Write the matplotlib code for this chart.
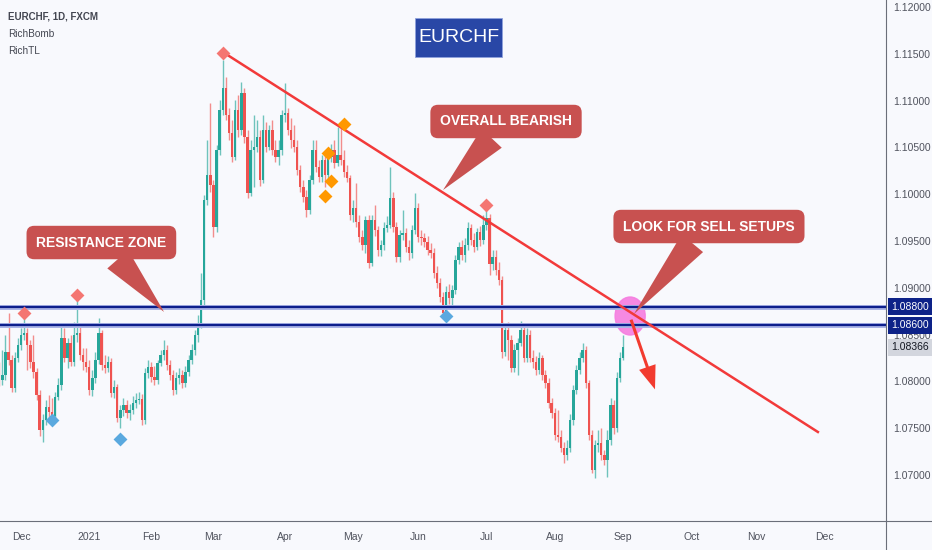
import matplotlib as mpl
mpl.use('Agg')
import matplotlib.pyplot as plt
from matplotlib.patches import Ellipse, FancyArrowPatch, Rectangle
from matplotlib.lines import Line2D
from matplotlib.transforms import blended_transform_factory
import numpy as np
import pandas as pd

plt.rcParams['font.family'] = ['Liberation Sans', 'DejaVu Sans']

# EURCHF 1D (FXCM) candles, prices as pips above 1.0000, open = previous close
first_open = 812
close_pips = [
    802, 807, 831, 823, 793, 825, 839, 850, 852, 839,
    821, 810, 785, 748, 759, 773, 767, 763, 783, 796,
    846, 825, 841, 821, 850, 852, 828, 821, 815, 791,
    804, 823, 852, 818, 814, 821, 788, 794, 761, 769,
    775, 766, 769, 777, 780, 781, 759, 809, 815, 805,
    802, 820, 828, 834, 818, 807, 791, 804, 807, 798,
    810, 823, 834, 850, 862, 887, 994, 1021, 1010, 965,
    1047, 1090, 1113, 1085, 1065, 1040, 1090, 1069, 1108, 1061,
    1001, 1047, 1050, 1061, 1015, 1069, 1050, 1069, 1047, 1040,
    1047, 1085, 1087, 1069, 1058, 1050, 1026, 1008, 997, 983,
    1015, 1047, 1029, 1018, 1037, 1021, 1040, 1047, 1033, 1042,
    1037, 1024, 1017, 978, 985, 970, 954, 946, 972, 926,
    972, 962, 940, 946, 964, 967, 996, 965, 933, 956,
    959, 944, 937, 962, 985, 954, 953, 949, 940, 937,
    916, 905, 890, 873, 896, 889, 898, 930, 944, 935,
    946, 964, 951, 944, 960, 951, 967, 975, 925, 933,
    919, 908, 831, 855, 844, 814, 834, 841, 855, 825,
    850, 825, 821, 812, 825, 807, 798, 777, 766, 743,
    741, 729, 721, 729, 759, 791, 812, 825, 834, 798,
    743, 705, 732, 734, 721, 716, 737, 775, 750, 804,
    825, 837]
high_pips = [
    821, 834, 850, 873, 828, 831, 846, 857, 868, 857,
    844, 850, 814, 791, 765, 780, 785, 782, 789, 804,
    858, 857, 846, 850, 863, 887, 860, 836, 836, 823,
    812, 831, 868, 855, 828, 827, 825, 802, 797, 775,
    782, 780, 776, 784, 788, 789, 787, 814, 823, 821,
    816, 823, 834, 844, 839, 823, 812, 810, 814, 812,
    816, 828, 840, 855, 871, 916, 999, 1058, 1097, 1015,
    1053, 1101, 1143, 1125, 1092, 1079, 1101, 1106, 1120, 1114,
    1069, 1058, 1085, 1079, 1069, 1085, 1077, 1074, 1079, 1058,
    1058, 1090, 1119, 1092, 1081, 1074, 1058, 1031, 1015, 1004,
    1021, 1058, 1058, 1037, 1042, 1042, 1047, 1054, 1058, 1072,
    1074, 1047, 1031, 1021, 994, 1012, 978, 962, 977, 978,
    978, 988, 966, 951, 970, 977, 1029, 1002, 970, 962,
    983, 964, 951, 967, 1001, 991, 962, 959, 955, 948,
    943, 923, 911, 896, 902, 904, 903, 935, 949, 951,
    953, 970, 968, 959, 964, 966, 978, 983, 979, 940,
    940, 928, 913, 861, 863, 850, 840, 846, 865, 860,
    857, 855, 834, 827, 831, 828, 812, 804, 782, 772,
    769, 748, 735, 737, 765, 796, 818, 831, 841, 838,
    802, 748, 737, 748, 750, 727, 748, 782, 780, 810,
    831, 850]
low_pips = [
    795, 796, 802, 818, 789, 789, 821, 834, 844, 812,
    814, 804, 780, 742, 735, 753, 761, 757, 759, 780,
    791, 821, 814, 816, 816, 842, 823, 812, 810, 785,
    784, 798, 819, 812, 809, 810, 783, 782, 757, 750,
    763, 761, 759, 765, 772, 776, 753, 754, 804, 799,
    796, 797, 816, 823, 812, 802, 785, 787, 797, 793,
    794, 806, 819, 828, 842, 857, 882, 988, 1002, 954,
    960, 1042, 1085, 1079, 1058, 1034, 1037, 1061, 1063, 1055,
    996, 998, 1008, 1045, 1009, 1012, 1045, 1047, 1042, 1034,
    1031, 1042, 1077, 1063, 1049, 1045, 1021, 1002, 992, 976,
    979, 1011, 1024, 1013, 1013, 1008, 1015, 1034, 1028, 1030,
    1031, 1018, 1013, 972, 970, 965, 949, 940, 937, 921,
    923, 955, 934, 934, 940, 960, 964, 960, 928, 928,
    951, 938, 930, 932, 957, 949, 946, 944, 935, 932,
    911, 900, 885, 868, 870, 883, 882, 893, 925, 930,
    928, 940, 946, 938, 940, 945, 947, 962, 914, 919,
    914, 903, 825, 827, 823, 810, 810, 807, 838, 821,
    821, 821, 814, 807, 808, 802, 793, 772, 761, 737,
    735, 725, 713, 716, 725, 753, 787, 808, 821, 793,
    737, 702, 697, 725, 716, 711, 698, 732, 744, 746,
    799, 823]

# trading calendar: weekdays, no bar on 25 Dec and 1 Jan
days = pd.bdate_range('2020-11-20', '2021-12-31')
days = days[~days.isin(pd.to_datetime(['2020-12-25', '2021-01-01']))]

zone_levels = [1.0880, 1.0860]
zone_labels = ['1.08800', '1.08600']
last_price = 1.08366
price_ticks = [1.070, 1.075, 1.080, 1.085, 1.090, 1.095, 1.100, 1.105, 1.110, 1.115, 1.120]

# RichTL trendline (bar index, price)
tl_bars = [72.0, 263.8]
tl_prices = [1.1152, 1.0746]

# RichBomb markers (bar index, price)
red_bars = [8, 25, 72, 157]
red_prices = [1.0873, 1.0892, 1.1151, 1.0989]
blue_bars = [17, 39, 144]
blue_prices = [1.0759, 1.0739, 1.0870]
orange_bars = [105, 106, 107, 111]
orange_prices = [1.0998, 1.1044, 1.1014, 1.1075]

# callouts: text, box centre, pointer tip, pointer start along box bottom
callout_text = ['RESISTANCE ZONE', 'OVERALL BEARISH', 'LOOK FOR SELL SETUPS']
callout_box = [(32.9, 1.09484), (163.3, 1.10777), (228.7, 1.09655)]
callout_tip = [(53.1, 1.08742), (143.0, 1.10045), (204.5, 1.08720)]
callout_rel = [0.56, 0.46, 0.45]

circle_center = (203.3, 1.08699)
arrow_from = (203.3, 1.08688)
arrow_to = (211.6, 1.07887)

n = len(close_pips)
x = np.arange(n)
c = 1 + np.array(close_pips) / 10000
o = np.concatenate([[1 + first_open / 10000], c[:-1]])
h = 1 + np.array(high_pips) / 10000
l = 1 + np.array(low_pips) / 10000

up_col = '#26a69a'
dn_col = '#ef5350'
bg = '#f8f9fd'

fig = plt.figure(figsize=(9.32, 5.5), dpi=100, facecolor=bg)
ax = fig.add_axes([0, 29 / 550, 886 / 932, 521 / 550])
ax.set_facecolor(bg)

cols = np.where(c >= o, up_col, dn_col)
ax.vlines(x, l, h, colors=cols, lw=1, alpha=0.65, zorder=2)
body = np.maximum(np.abs(c - o), 0.00004)
ax.bar(x, body, bottom=np.minimum(o, c), width=0.78, color=cols, zorder=2.2)

# resistance zone
for lev in zone_levels:
    ax.axhline(lev, color='#aab4e6', lw=3.6, zorder=2.5)
    ax.axhline(lev, color='#0d1f8c', lw=1.6, zorder=2.6)

ax.plot(tl_bars, tl_prices, color='#f23a3a', lw=1.8, zorder=3)

ax.add_patch(Ellipse(circle_center, 9.7, 0.00406, color='#f57de0', alpha=0.9, zorder=2.4))
ax.add_patch(FancyArrowPatch(arrow_from, arrow_to,
                             arrowstyle='simple,head_width=1.25,head_length=1.7,tail_width=0.22',
                             mutation_scale=10, color='#f23b2f', lw=0, zorder=4))

ax.scatter(red_bars, red_prices, marker='D', s=50, color='#f47672', zorder=4, lw=0)
ax.scatter(blue_bars, blue_prices, marker='D', s=50, color='#5aa9df', zorder=4, lw=0)
ax.scatter(orange_bars, orange_prices, marker='D', s=50, color='#ff9800', zorder=4, lw=0)

for txt, box, tip, rel in zip(callout_text, callout_box, callout_tip, callout_rel):
    ax.annotate(txt, xy=tip, xytext=box, ha='center', va='center',
                fontsize=10, fontweight='bold', color='white',
                bbox=dict(boxstyle='round,pad=0.7,rounding_size=0.55', fc='#c85150', ec='none'),
                arrowprops=dict(arrowstyle='wedge,tail_width=2.0', fc='#c85150', ec='none',
                                relpos=(rel, 0), shrinkA=0, shrinkB=0),
                zorder=5)

# title badge
ax.add_patch(Rectangle((415 / 886, 1 - 57 / 521), 87 / 886, 39 / 521, transform=ax.transAxes,
                       fc='#2947a6', ec='#8fa2dc', lw=0.6, zorder=5))
ax.text(458.5 / 886, 1 - 38 / 521, 'EURCHF', transform=ax.transAxes, ha='center', va='center',
        fontsize=14, color='white', zorder=6)

ax.text(0.009, 0.969, 'EURCHF, 1D, FXCM', transform=ax.transAxes, ha='left', va='center',
        fontsize=7, fontweight='bold', color='#434651')
ax.text(0.009, 0.935, 'RichBomb', transform=ax.transAxes, ha='left', va='center',
        fontsize=7.2, color='#434651')
ax.text(0.009, 0.902, 'RichTL', transform=ax.transAxes, ha='left', va='center',
        fontsize=7.2, color='#434651')

# axes
ax.set_xlim(0.23, 285.75)
ax.set_ylim(1.06509, 1.12075)

month_pos = []
month_lab = []
for m in pd.period_range('2020-12', '2021-12', freq='M'):
    idx = np.where((days.year == m.year) & (days.month == m.month))[0][0]
    month_pos.append(idx)
    month_lab.append(str(m.year) if m.month == 1 else m.strftime('%b'))
ax.set_xticks(month_pos)
ax.set_xticklabels(month_lab)

ax.yaxis.tick_right()
ax.set_yticks(price_ticks)
ax.yaxis.set_major_formatter(lambda v, p: f'{v:.5f}')
ax.tick_params(axis='both', length=0, labelsize=7.5, labelcolor='#50535e')
ax.tick_params(axis='x', pad=8)
ax.tick_params(axis='y', pad=5)

for s in ['top', 'left']:
    ax.spines[s].set_visible(False)
for s in ['right', 'bottom']:
    ax.spines[s].set_color('#6b6f7a')
    ax.spines[s].set_linewidth(0.8)
fig.add_artist(Line2D([886 / 932, 886 / 932], [0, 29 / 550], color='#6b6f7a', lw=0.8))
fig.add_artist(Line2D([886 / 932, 1], [29 / 550, 29 / 550], color='#6b6f7a', lw=0.8))

# price labels on the scale
tr = blended_transform_factory(ax.transAxes, ax.transData)
for lev, lab in zip(zone_levels, zone_labels):
    ax.text(1.006, lev, lab, transform=tr, ha='left', va='center', fontsize=7.5,
            color='white', clip_on=False, zorder=6,
            bbox=dict(boxstyle='square,pad=0.35', fc='#0d2288', ec='none'))
ax.text(1.006, last_price, f'{last_price:.5f}', transform=tr, ha='left', va='center',
        fontsize=7.5, color='#131722', clip_on=False, zorder=6,
        bbox=dict(boxstyle='square,pad=0.35', fc='#d3d6de', ec='none'))

fig.savefig('out.png', dpi=100, facecolor=bg)
